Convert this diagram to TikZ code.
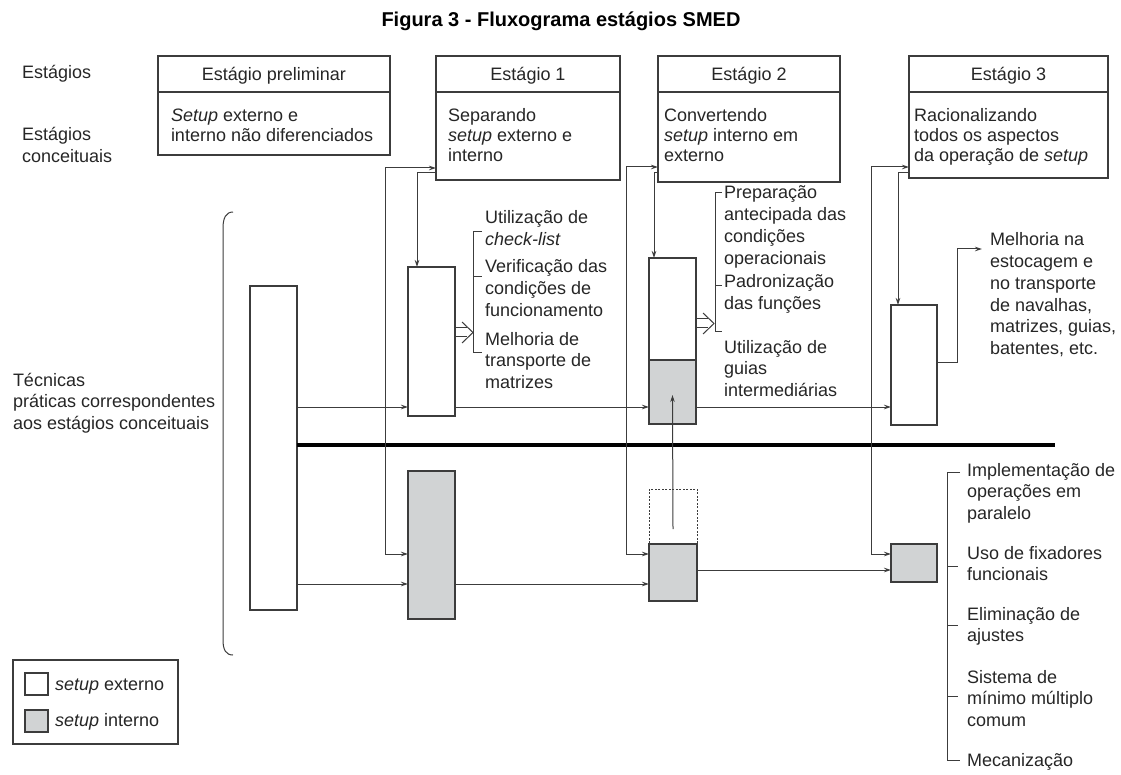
\documentclass[tikz,border=0pt]{standalone}
\usepackage{fontspec}
\setmainfont{Liberation Sans}
\usetikzlibrary{arrows.meta,calc}
\definecolor{fillgray}{RGB}{209,211,212}
\definecolor{ln}{RGB}{60,60,60}
\begin{document}
\begin{tikzpicture}[x=1pt,y=-1pt,
  every node/.style={inner sep=0pt, outer sep=0pt},
  txt/.style={font=\fontsize{18}{21.7}\selectfont, align=left, anchor=base west, text=black!85},
  boxtxt/.style={font=\fontsize{18}{20}\selectfont, align=left, anchor=base west, text=black!85},
  hdr/.style={font=\fontsize{18}{20}\selectfont, anchor=base, text=black!85},
  rect/.style={draw=ln, line width=1.1pt, anchor=north west, fill=white},
  grect/.style={rect, fill=fillgray},
  drect/.style={draw=ln, line width=0.9pt, dash pattern=on 2pt off 1.5pt, anchor=north west},
  conn/.style={draw=ln, line width=1pt, -{Stealth[length=7pt,width=4.5pt]}},
  dconn/.style={draw=ln, line width=1pt, {Stealth[length=7pt,width=4.5pt]}-{Stealth[length=7pt,width=4.5pt]}},
  brk/.style={draw=ln, line width=1pt},
  dbl/.style={draw=ln, line width=1pt}
]
\useasboundingbox (0,0) rectangle (1121,775);

% title
\node[font=\bfseries\fontsize{20}{24}\selectfont] (title) at (561,21) {Figura 3 - Fluxograma estágios SMED};

% left labels (base = last line's baseline)
\node[txt] (lstag) at (22,79) {Estágios};
\node[txt] (lconc) at (22,162.7) {Estágios\\conceituais};
\node[txt] (ltec) at (13,429.4) {Técnicas\\práticas correspondentes\\aos estágios conceituais};

% stage boxes
\node[rect, minimum width=232pt, minimum height=99pt] (sp) at (158,56) {};
\node[rect, minimum width=184pt, minimum height=124pt] (s1) at (436,56) {};
\node[rect, minimum width=182pt, minimum height=126pt] (s2) at (658,56) {};
\node[rect, minimum width=199pt, minimum height=122pt] (s3) at (909,56) {};
\foreach \b in {sp,s1,s2,s3} {\draw[brk, line width=1.1pt] (\b.west |- 0,92) -- (\b.east |- 0,92);}

\node[hdr] (hsp) at (sp.north |- 0,81) {Estágio preliminar};
\node[hdr] (hs1) at (s1.north |- 0,81) {Estágio 1};
\node[hdr] (hs2) at (s2.north |- 0,81) {Estágio 2};
\node[hdr] (hs3) at (s3.north |- 0,81) {Estágio 3};

\node[boxtxt] (tsp) at (171,142) {\textit{Setup} externo e\\interno não diferenciados};
\node[boxtxt] (ts1) at (448,162) {Separando\\\textit{setup} externo e\\interno};
\node[boxtxt] (ts2) at (664,162) {Convertendo\\\textit{setup} interno em\\externo};
\node[boxtxt] (ts3) at (914,162) {Racionalizando\\todos os aspectos\\da operação de \textit{setup}};

% left brace
\draw[brk] (233,212) .. controls (226,212) and (223,218) .. (223,228) -- (223,640) .. controls (223,650) and (226,655) .. (233,655);

% lower boxes
\node[rect, minimum width=47pt, minimum height=324pt] (lb) at (250,286) {};
\node[rect, minimum width=47pt, minimum height=149pt] (u1) at (408,267) {};
\node[rect, minimum width=47pt, minimum height=102pt] (u2) at (649,258) {};
\node[grect, minimum width=47pt, minimum height=64pt] (u2g) at (649,360) {};
\node[rect, minimum width=46pt, minimum height=120pt] (u3) at (891,305) {};
\node[grect, minimum width=47pt, minimum height=148pt] (g1) at (408,471) {};
\node[drect, minimum width=48pt, minimum height=55pt] (d2) at (649,489) {};
\node[grect, minimum width=48pt, minimum height=57pt] (g2) at (649,544) {};
\node[grect, minimum width=46pt, minimum height=38pt] (g3) at (891,544) {};

% thick divider
\coordinate (thkend) at (1055,445);
\draw[line width=4pt] (lb.east |- thkend) -- (thkend);

% horizontal flows
\draw[conn] (lb.east |- 0,407) -- (u1.west |- 0,407);
\draw[conn] (u1.east |- 0,407) -- (u2g.west |- 0,407);
\draw[conn] (u2g.east |- 0,407) -- (u3.west |- 0,407);
\draw[conn] (lb.east |- 0,584) -- (g1.west |- 0,584);
\draw[conn] (g1.east |- 0,584) -- (g2.west |- 0,584);
\draw[conn] (g2.east |- 0,570) -- (g3.west |- 0,570);
\draw[conn] (d2.center |- 0,529) -- (u2g.center |- 0,395);

% vertical feeds from stage boxes
\draw[dconn] (s1.west |- 0,168) -- (385,168) |- (g1.west |- 0,554);
\draw[conn] (s1.west |- 0,173) -| (u1.north -| 417,0);
\draw[dconn] (s2.west |- 0,167) -- (626,167) |- (g2.west |- 0,554);
\draw[conn] (s2.west |- 0,173) -| (u2.north -| 654,0);
\draw[dconn] (s3.west |- 0,167) -- (871,167) |- (g3.west |- 0,554);
\draw[conn] (s3.west |- 0,173) -| (u3.north -| 898,0);

% hollow double arrows
\draw[dbl] (u1.east |- 0,328) -- (467,328);
\draw[dbl] (u1.east |- 0,337) -- (467,337);
\draw[dbl] (462,322) .. controls (467,327) .. (473,332.5) .. controls (467,338) .. (462,343);
\draw[dbl] (u2.east |- 0,319) -- (708,319);
\draw[dbl] (u2.east |- 0,328) -- (708,328);
\draw[dbl] (703,313) .. controls (708,318) .. (714,323.5) .. controls (708,329) .. (703,334);

% stage 1 list
\draw[brk] (482,232) -- (473,232) -- (473,352) -- (482,352);
\draw[brk] (473,277) -- (482,277);
\node[txt] (l1a) at (485,245.7) {Utilização de\\\textit{check-list}};
\node[txt] (l1b) at (485,316.4) {Verificação das\\condições de\\funcionamento};
\node[txt] (l1c) at (485,388.4) {Melhoria de\\transporte de\\matrizes};

% stage 2 list
\draw[brk] (722,193) -- (715,193) -- (715,332) -- (722,332);
\draw[brk] (715,286) -- (722,286);
\node[txt] (l2a) at (724,264.1) {Preparação\\antecipada das\\condições\\operacionais};
\node[txt] (l2b) at (724,309.7) {Padronização\\das funções};
\node[txt] (l2c) at (724,396.4) {Utilização de\\guias\\intermediárias};

% stage 3 upper list
\coordinate (m3in) at (982,249);
\draw[conn] (u3.east |- 0,362) -- (957,362) |- (m3in);
\node[txt] (l3) at (990,354.5) {Melhoria na\\estocagem e\\no transporte\\de navalhas,\\matrizes, guias,\\batentes, etc.};

% stage 3 lower list
\draw[brk] (960,472) -- (947,472) -- (947,760) -- (960,760);
\foreach \yy in {566,625,696} {\draw[brk] (947,\yy) -- (958,\yy);}
\node[txt] (l4a) at (967,519.4) {Implementação de\\operações em\\paralelo};
\node[txt] (l4b) at (967,580.7) {Uso de fixadores\\funcionais};
\node[txt] (l4c) at (967,641.7) {Eliminação de\\ajustes};
\node[txt] (l4d) at (967,726.4) {Sistema de\\mínimo múltiplo\\comum};
\node[txt] (l4e) at (967,766) {Mecanização};

% legend
\node[rect, minimum width=165pt, minimum height=84pt] (leg) at (13,660) {};
\node[rect, minimum width=23pt, minimum height=22pt] (legw) at (25,673) {};
\node[grect, minimum width=23pt, minimum height=22pt] (legg) at (25,710) {};
\node[txt] (legwt) at (55,690) {\textit{setup} externo};
\node[txt] (leggt) at (55,726) {\textit{setup} interno};
\end{tikzpicture}
\end{document}
